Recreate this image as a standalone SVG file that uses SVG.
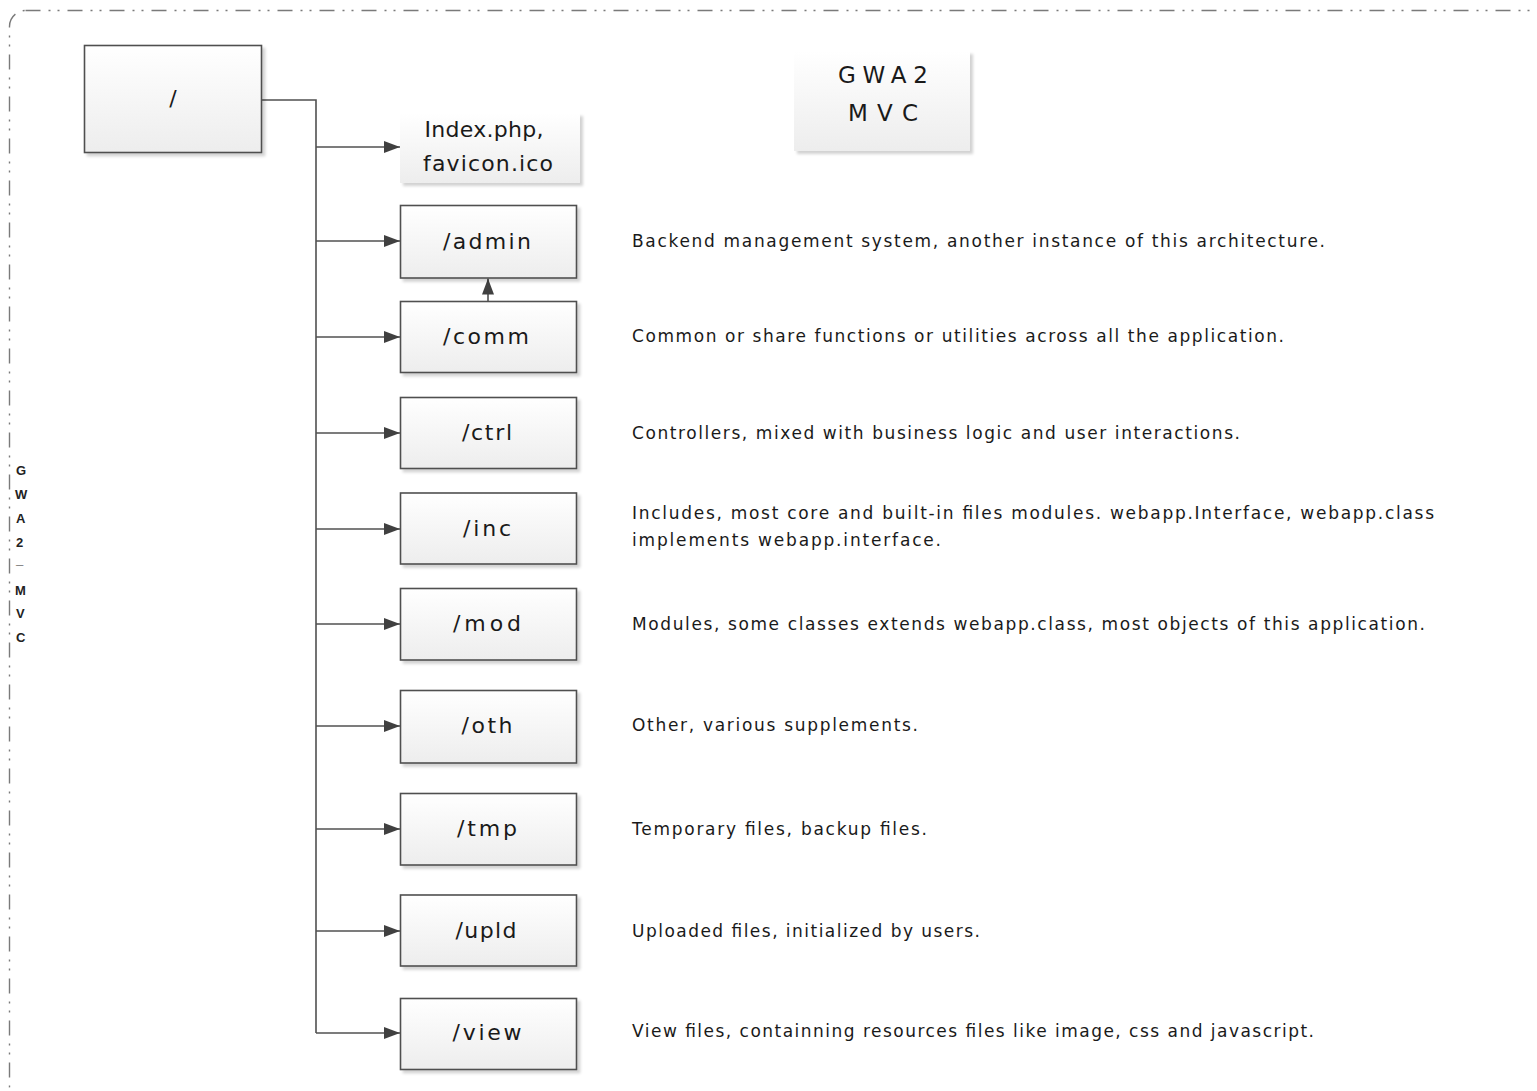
<svg xmlns="http://www.w3.org/2000/svg" width="1537" height="1091" viewBox="0 0 1537 1091">
<defs>
  <linearGradient id="g" x1="0" y1="0" x2="0" y2="1">
    <stop offset="0" stop-color="#ffffff"/>
    <stop offset="1" stop-color="#ededed"/>
  </linearGradient>
  <filter id="sh" x="-10%" y="-10%" width="130%" height="140%">
    <feGaussianBlur in="SourceAlpha" stdDeviation="1.5"/>
    <feOffset dx="3" dy="3" result="o"/>
    <feComponentTransfer><feFuncA type="linear" slope="0.18"/></feComponentTransfer>
    <feMerge><feMergeNode/><feMergeNode in="SourceGraphic"/></feMerge>
  </filter>
  <marker id="arr" markerUnits="userSpaceOnUse" markerWidth="16" markerHeight="12" refX="16" refY="6" orient="auto">
    <path d="M0,0 L16,6 L0,12 z" fill="#404040"/>
  </marker>
  <style>
    .box { fill: url(#g); stroke: #505050; stroke-width: 1.6; filter: url(#sh); }
    .plain { fill: url(#g); stroke: none; filter: url(#sh); }
    .lbl { font-family: "DejaVu Sans", "Liberation Sans", sans-serif; font-size: 22px; fill: #1a1a1a; text-anchor: middle; }
    .ttl { font-family: "DejaVu Sans", "Liberation Sans", sans-serif; font-size: 23px; fill: #1a1a1a; text-anchor: middle; }
    .desc { font-family: "DejaVu Sans", "Liberation Sans", sans-serif; font-size: 17px; fill: #1a1a1a; }
    .side { font-family: "Liberation Sans", sans-serif; font-size: 13px; font-weight: bold; fill: #222; }
    .conn { fill: none; stroke: #505050; stroke-width: 1.6; }
  </style>
</defs>
<rect width="1537" height="1091" fill="#ffffff"/>
<g id="frame">
  <rect x="9.5" y="10.5" width="1560" height="1092" rx="16" ry="16" fill="none" stroke="#7a7a7a" stroke-width="1.4" stroke-dasharray="15 8 2 7 2 8"/>
  <text class="side">
    <tspan x="16" y="475">G</tspan>
    <tspan x="15" y="499">W</tspan>
    <tspan x="16" y="523">A</tspan>
    <tspan x="16" y="547">2</tspan>
    <tspan x="16" y="564">_</tspan>
    <tspan x="15" y="595">M</tspan>
    <tspan x="16" y="618">V</tspan>
    <tspan x="16" y="642">C</tspan>
  </text>
</g>
<g id="connectors">
  <path class="conn" d="M262,100 H316 V1033"/>
  <path class="conn" d="M316,147 H400" marker-end="url(#arr)"/>
  <path class="conn" d="M316,241 H400" marker-end="url(#arr)"/>
  <path class="conn" d="M316,337 H400" marker-end="url(#arr)"/>
  <path class="conn" d="M316,433 H400" marker-end="url(#arr)"/>
  <path class="conn" d="M316,529 H400" marker-end="url(#arr)"/>
  <path class="conn" d="M316,624 H400" marker-end="url(#arr)"/>
  <path class="conn" d="M316,726 H400" marker-end="url(#arr)"/>
  <path class="conn" d="M316,829 H400" marker-end="url(#arr)"/>
  <path class="conn" d="M316,931 H400" marker-end="url(#arr)"/>
  <path class="conn" d="M316,1033 H400" marker-end="url(#arr)"/>
  <path class="conn" d="M488,301 V278.5" marker-end="url(#arr)"/>
</g>
<g id="root">
  <rect class="box" x="84.5" y="45.5" width="177" height="107"/>
  <text class="lbl" x="173" y="106">/</text>
</g>
<g id="title">
  <rect class="plain" x="794" y="51" width="176" height="100"/>
  <text class="ttl" x="883" y="83" textLength="90" lengthAdjust="spacing">GWA2</text>
  <text class="ttl" x="883" y="121" textLength="70" lengthAdjust="spacing">MVC</text>
</g>
<g id="index">
  <rect class="plain" x="400" y="113" width="180" height="70"/>
  <text class="lbl" x="484" y="137" textLength="119" lengthAdjust="spacing">Index.php,</text>
  <text class="lbl" x="488" y="171" textLength="130" lengthAdjust="spacing">favicon.ico</text>
</g>
<g id="admin">
  <rect class="box" x="400.5" y="205.5" width="176" height="72.5"/>
  <text class="lbl" x="487" y="249" textLength="88" lengthAdjust="spacing">/admin</text>
</g>
<g id="comm">
  <rect class="box" x="400.5" y="301.5" width="176" height="71"/>
  <text class="lbl" x="486" y="344" textLength="86" lengthAdjust="spacing">/comm</text>
</g>
<g id="ctrl">
  <rect class="box" x="400.5" y="397.5" width="176" height="71"/>
  <text class="lbl" x="487" y="440" textLength="50" lengthAdjust="spacing">/ctrl</text>
</g>
<g id="inc">
  <rect class="box" x="400.5" y="493" width="176" height="71"/>
  <text class="lbl" x="487" y="536" textLength="48" lengthAdjust="spacing">/inc</text>
</g>
<g id="mod">
  <rect class="box" x="400.5" y="588.5" width="176" height="71.5"/>
  <text class="lbl" x="487" y="631" textLength="68" lengthAdjust="spacing">/mod</text>
</g>
<g id="oth">
  <rect class="box" x="400.5" y="690.5" width="176" height="72.5"/>
  <text class="lbl" x="487" y="733" textLength="51" lengthAdjust="spacing">/oth</text>
</g>
<g id="tmp">
  <rect class="box" x="400.5" y="793.5" width="176" height="71.5"/>
  <text class="lbl" x="487" y="836" textLength="60" lengthAdjust="spacing">/tmp</text>
</g>
<g id="upld">
  <rect class="box" x="400.5" y="895" width="176" height="71"/>
  <text class="lbl" x="486" y="938" textLength="61" lengthAdjust="spacing">/upld</text>
</g>
<g id="view">
  <rect class="box" x="400.5" y="998.5" width="176" height="71"/>
  <text class="lbl" x="487" y="1040" textLength="69" lengthAdjust="spacing">/view</text>
</g>
<g id="descriptions">
  <text class="desc" x="632" y="247" textLength="693" lengthAdjust="spacing">Backend management system, another instance of this architecture.</text>
  <text class="desc" x="632" y="342" textLength="652" lengthAdjust="spacing">Common or share functions or utilities across all the application.</text>
  <text class="desc" x="632" y="439" textLength="608" lengthAdjust="spacing">Controllers, mixed with business logic and user interactions.</text>
  <text class="desc" x="632" y="519" textLength="802" lengthAdjust="spacing">Includes, most core and built-in files modules. webapp.Interface, webapp.class</text>
  <text class="desc" x="632" y="546" textLength="309" lengthAdjust="spacing">implements webapp.interface.</text>
  <text class="desc" x="632" y="630" textLength="793" lengthAdjust="spacing">Modules, some classes extends webapp.class, most objects of this application.</text>
  <text class="desc" x="632" y="731" textLength="286" lengthAdjust="spacing">Other, various supplements.</text>
  <text class="desc" x="632" y="835" textLength="295" lengthAdjust="spacing">Temporary files, backup files.</text>
  <text class="desc" x="632" y="937" textLength="348" lengthAdjust="spacing">Uploaded files, initialized by users.</text>
  <text class="desc" x="632" y="1037" textLength="682" lengthAdjust="spacing">View files, containning resources files like image, css and javascript.</text>
</g>
</svg>
